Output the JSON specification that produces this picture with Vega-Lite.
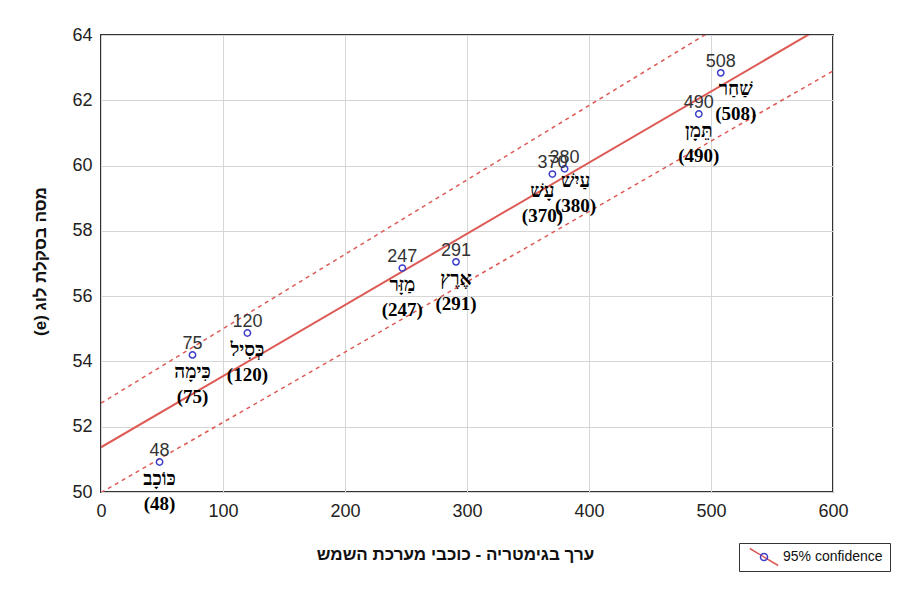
{
  "$schema": "https://vega.github.io/schema/vega-lite/v6.json",
  "width": 732,
  "height": 457,
  "autosize": "none",
  "padding": {"left": 101, "top": 35, "right": 75, "bottom": 104},
  "background": "white",
  "config": {
    "view": {"stroke": "#333333", "strokeWidth": 2},
    "axis": {
      "grid": true, "gridColor": "#d6d6d6", "gridWidth": 1,
      "domain": false, "ticks": false,
      "labelFont": "Liberation Sans", "labelFontSize": 18, "labelColor": "#222222",
      "titleFont": "Liberation Sans", "titleFontSize": 17, "titleFontWeight": "bold", "titleColor": "#111111"
    }
  },
  "datasets": {
    "pts": [
      {"g": 48, "m": 50.92, "lbl": "כּוֹכָב\n(48)"},
      {"g": 75, "m": 54.2, "lbl": "כִּימָה\n(75)"},
      {"g": 120, "m": 54.87, "lbl": "כְּסִיל\n(120)"},
      {"g": 247, "m": 56.86, "lbl": "מַזָּר\n(247)"},
      {"g": 291, "m": 57.05, "lbl": "אֶרֶץ\n(291)"},
      {"g": 370, "m": 59.74, "lbl": "עָשׁ\n(370)"},
      {"g": 380, "m": 59.9, "lbl": "עַיִשׁ\n(380)"},
      {"g": 490, "m": 61.58, "lbl": "תֵּמָן\n(490)"},
      {"g": 508, "m": 62.84, "lbl": "שַׁחַר\n(508)"}
    ],
    "lines": [
      {"s": "fit", "g": 0, "m": 51.37},
      {"s": "fit", "g": 600, "m": 64.45},
      {"s": "upper", "g": 0, "m": 52.72},
      {"s": "upper", "g": 600, "m": 66.4},
      {"s": "lower", "g": 0, "m": 49.98},
      {"s": "lower", "g": 600, "m": 62.9}
    ]
  },
  "encoding": {
    "x": {
      "field": "g", "type": "quantitative",
      "scale": {"domain": [0, 600], "nice": false, "zero": false},
      "axis": {
        "values": [0, 100, 200, 300, 400, 500, 600],
        "labelPadding": 10, "labelFlush": false, "labelOverlap": false,
        "title": "ערך בגימטריה - כוכבי מערכת השמש",
        "titleX": 354, "titleY": 62, "titleBaseline": "middle", "titleAnchor": null
      }
    },
    "y": {
      "field": "m", "type": "quantitative",
      "scale": {"domain": [50, 64], "nice": false, "zero": false},
      "axis": {
        "values": [50, 52, 54, 56, 58, 60, 62, 64],
        "labelPadding": 9, "labelFlush": false, "labelOverlap": false,
        "title": "(e) מסה בסקלת לוג",
        "titleAngle": -90, "titleX": -61, "titleY": 226,
        "titleBaseline": "middle", "titleAlign": "center"
      }
    }
  },
  "layer": [
    {
      "data": {"name": "lines"},
      "transform": [{"filter": "datum.s != 'fit'"}],
      "mark": {"type": "line", "clip": true, "color": "#dd5a55", "strokeWidth": 1.5, "strokeDash": [4, 4]},
      "encoding": {"detail": {"field": "s"}}
    },
    {
      "data": {"name": "lines"},
      "transform": [{"filter": "datum.s == 'fit'"}],
      "mark": {"type": "line", "clip": true, "strokeWidth": 2},
      "encoding": {
        "color": {
          "datum": "ci",
          "scale": {"domain": ["ci"], "range": ["#dd5a55"]},
          "legend": {
            "orient": "none", "legendX": 638, "legendY": 508, "title": null,
            "padding": 7, "symbolOffset": 11, "labelOffset": 12,
            "symbolSize": 50, "symbolType": "M-4,-2.4L4,2.4", "symbolStrokeWidth": 1.5,
            "labelFont": "Liberation Sans", "labelFontSize": 14,
            "labelExpr": "'95% confidence'", "labelColor": "transparent"
          }
        }
      }
    },
    {
      "data": {"name": "pts"},
      "mark": {"type": "point", "filled": false, "color": "#3c3cc8", "size": 40, "strokeWidth": 1.5, "opacity": 1},
      "encoding": {
        "shape": {
          "datum": "95% confidence",
          "scale": {"range": ["circle"]},
          "legend": {
            "orient": "none", "legendX": 638, "legendY": 508, "title": null,
            "padding": 7, "symbolOffset": 11, "labelOffset": 12,
            "symbolSize": 50, "symbolStrokeWidth": 1.5,
            "symbolStrokeColor": "#3c3cc8", "symbolFillColor": "transparent",
            "strokeColor": "#333333",
            "labelFont": "Liberation Sans", "labelFontSize": 14, "labelColor": "#111111",
            "encode": {"legend": {"update": {"strokeWidth": {"value": 1.5}}}}
          }
        }
      }
    },
    {
      "data": {"name": "pts"},
      "mark": {"type": "text", "font": "Liberation Sans", "fontSize": 18, "color": "#333333", "baseline": "middle", "dy": -11},
      "encoding": {"text": {"field": "g", "type": "nominal"}}
    },
    {
      "data": {"name": "pts"},
      "transform": [{"filter": "datum.g != 370 && datum.g != 380 && datum.g != 508"}],
      "mark": {"type": "text", "font": "Liberation Serif", "fontWeight": "bold", "fontSize": 19, "color": "#000000", "lineBreak": "\n", "lineHeight": 25, "baseline": "top", "dy": 8},
      "encoding": {"text": {"field": "lbl", "type": "nominal"}}
    },
    {
      "data": {"name": "pts"},
      "transform": [{"filter": "datum.g == 508"}],
      "mark": {"type": "text", "font": "Liberation Serif", "fontWeight": "bold", "fontSize": 19, "color": "#000000", "lineBreak": "\n", "lineHeight": 25, "baseline": "top", "dy": 7, "dx": 15},
      "encoding": {"text": {"field": "lbl", "type": "nominal"}}
    },
    {
      "data": {"name": "pts"},
      "transform": [{"filter": "datum.g == 370"}],
      "mark": {"type": "text", "font": "Liberation Serif", "fontWeight": "bold", "fontSize": 19, "color": "#000000", "lineBreak": "\n", "lineHeight": 25, "baseline": "top", "dy": 8, "dx": -10},
      "encoding": {"text": {"field": "lbl", "type": "nominal"}}
    },
    {
      "data": {"name": "pts"},
      "transform": [{"filter": "datum.g == 380"}],
      "mark": {"type": "text", "font": "Liberation Serif", "fontWeight": "bold", "fontSize": 19, "color": "#000000", "lineBreak": "\n", "lineHeight": 25, "baseline": "top", "dy": 3, "dx": 11},
      "encoding": {"text": {"field": "lbl", "type": "nominal"}}
    }
  ]
}
